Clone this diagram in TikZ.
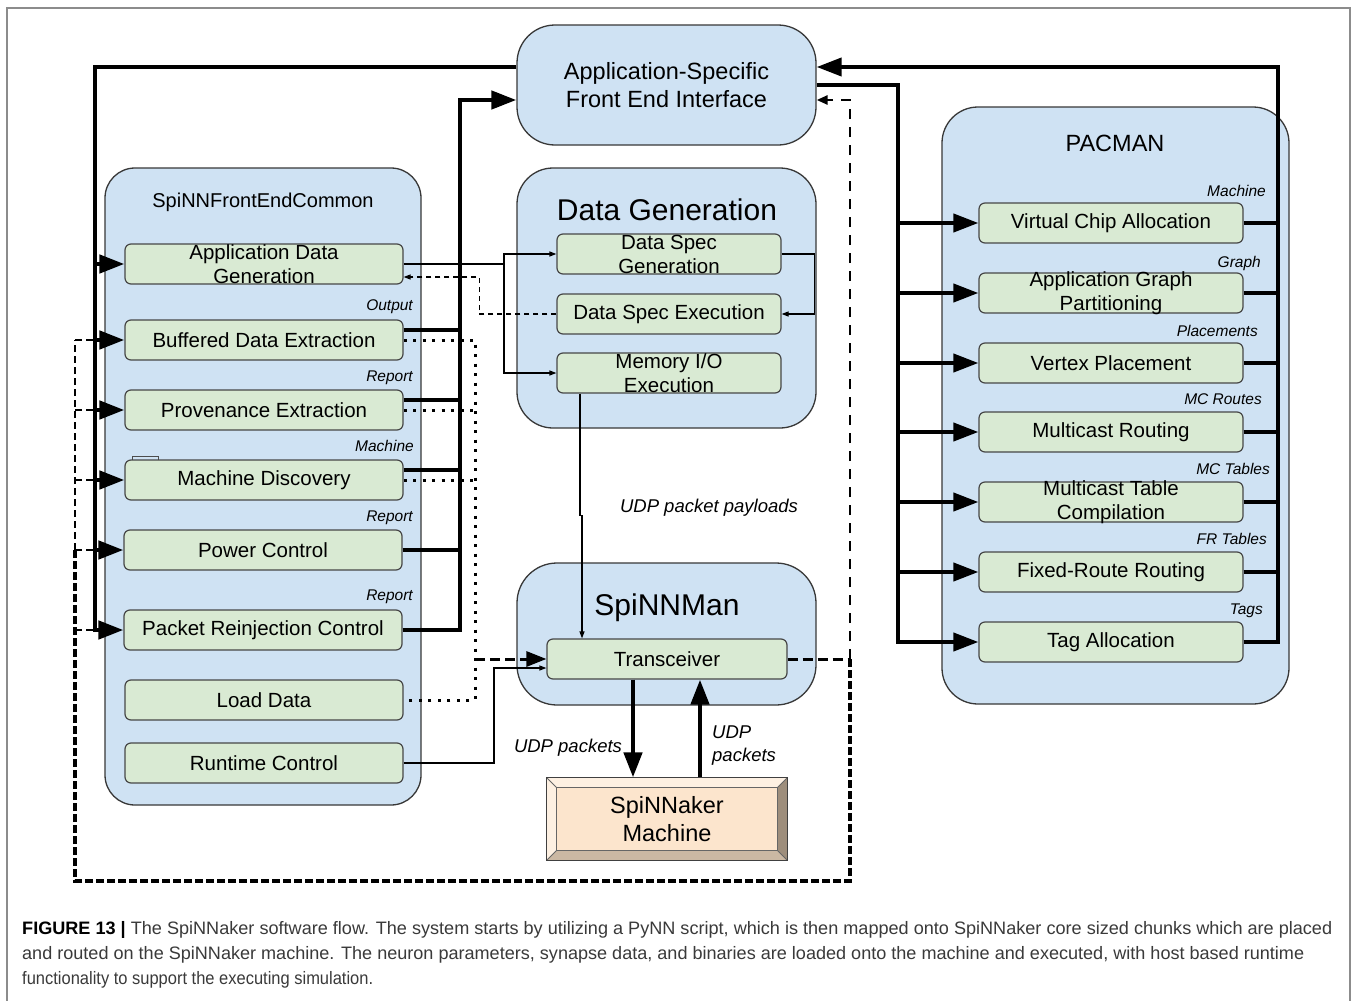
\documentclass[tikz,border=0pt]{standalone}
\usepackage{fontspec}
\usepackage{graphicx}
\setmainfont{Liberation Sans}
\usetikzlibrary{arrows.meta,calc}
\definecolor{contblue}{HTML}{CFE2F3}
\definecolor{boxgreen}{HTML}{D9EAD3}
\definecolor{peach}{HTML}{FCE5CD}
\definecolor{peachlt}{HTML}{FDF0E2}
\definecolor{peachdk}{HTML}{CBB8A3}
\definecolor{peachdkr}{HTML}{9E8E7C}
\definecolor{capgray}{HTML}{3A3A3A}
\newcommand\fsz[2]{\fontsize{#1}{#2}\selectfont}
\tikzset{
  bigtri/.tip={Triangle[length=25pt,width=18pt]},
  medtri/.tip={Triangle[length=20pt,width=15pt]},
  dtri/.tip={Triangle[length=11pt,width=9pt]},
  smtri/.tip={Triangle[length=7pt,width=5pt]}
}
\begin{document}
\begin{tikzpicture}[x=1pt,y=-1pt,
  container/.style={draw=black!78,line width=1.3pt,fill=contblue,inner sep=0pt},
  gbox/.style={draw=black!72,line width=1.2pt,fill=boxgreen,rounded corners=6pt,inner sep=0pt,minimum height=40pt},
  boxtxt/.style={font=\fsz{20.5}{24},align=center,inner sep=0pt},
  tag/.style={font=\fsz{15.5}{18}\itshape,inner sep=0pt,anchor=base east},
  udp/.style={font=\fsz{18.5}{23}\itshape,inner sep=0pt},
  bus/.style={line width=4.5pt},
  pbus/.style={line width=4pt},
  thinln/.style={line width=1.2pt},
  thindash/.style={line width=1.2pt,dash pattern=on 5pt off 4pt},
  dots/.style={line width=3pt,dash pattern=on 3pt off 6.5pt},
  tdash/.style={line width=3pt,dash pattern=on 10pt off 5pt},
  mdash/.style={line width=2.6pt,dash pattern=on 10pt off 8pt},
  hdash/.style={line width=4.2pt,dash pattern=on 8pt off 3pt},
  ldash/.style={line width=2.8pt,dash pattern=on 7pt off 4pt}
]
\useasboundingbox (0,0) rectangle (1358,1001);
\fill[white] (0,0) rectangle (1358,1001);
\draw[black!45,line width=1.3pt] (7,1015) -- (7,8) -- (1350,8) -- (1350,1015);

% containers
\node[container,rounded corners=38pt,minimum width=299pt,minimum height=120pt,font=\fsz{23.5}{28},align=center] (asfei) at (666.5,85) {Application-Specific\\Front End Interface};
\node[container,rounded corners=30pt,minimum width=316pt,minimum height=637pt] (sfec) at (263,486.5) {};
\node[container,rounded corners=36pt,minimum width=299pt,minimum height=260pt] (dg) at (666.5,298) {};
\node[container,rounded corners=40pt,minimum width=299pt,minimum height=142pt] (sm) at (666.5,634) {};
\node[container,rounded corners=36pt,minimum width=347pt,minimum height=597pt] (pac) at (1115.5,405.5) {};

\node[font=\fsz{20}{24},anchor=base,inner sep=0pt] (sfect) at (263,207) {SpiNNFrontEndCommon};
\node[font=\fsz{30}{36},anchor=base,inner sep=0pt] (dgt) at (667,220) {Data Generation};
\node[font=\fsz{30}{36},anchor=base,inner sep=0pt] (smt) at (667,615) {SpiNNMan};
\node[font=\fsz{23.5}{28},anchor=base,inner sep=0pt] (pact) at (1115,151) {PACMAN};

% SpiNNFrontEndCommon boxes
\draw[black!70,line width=0.8pt] (132,460) rectangle (158,456);
\node[gbox,minimum width=278pt,label={[boxtxt]center:{Application Data\\Generation}}] (adg) at (264,264) {};
\node[gbox,minimum width=278pt,label={[boxtxt]center:{Buffered Data Extraction}}] (bde) at (264,340) {};
\node[gbox,minimum width=278pt,label={[boxtxt]center:{Provenance Extraction}}] (pe) at (264,410) {};
\node[gbox,minimum width=278pt,label={[boxtxt]center:{Machine Discovery}}] (md) at (264,480) {};
\node[gbox,minimum width=278pt,label={[boxtxt]center:{Power Control}}] (pc) at (263,550) {};
\node[gbox,minimum width=278pt,label={[boxtxt]center:{Packet Reinjection Control}}] (prc) at (263,630) {};
\node[gbox,minimum width=278pt,label={[boxtxt]center:{Load Data}}] (ld) at (264,700) {};
\node[gbox,minimum width=278pt,label={[boxtxt]center:{Runtime Control}}] (rc) at (264,763) {};

\node[tag] (t1) at (413,310.5) {Output};
\node[tag] (t2) at (413,381.5) {Report};
\node[tag] (t3) at (414,451.5) {Machine};
\node[tag] (t4) at (413,521.5) {Report};
\node[tag] (t5) at (413,600.5) {Report};

% Data generation boxes
\node[gbox,minimum width=224pt,label={[boxtxt]center:{Data Spec\\Generation}}] (dsg) at (669,254) {};
\node[gbox,minimum width=224pt,label={[boxtxt]center:{Data Spec Execution}}] (dse) at (669,314) {};
\node[gbox,minimum width=224pt,label={[boxtxt]center:{Memory I/O\\Execution}}] (mio) at (669,373) {};

% SpiNNMan
\node[gbox,minimum width=240pt,label={[boxtxt]center:{Transceiver}}] (trx) at (667,659) {};

% SpiNNaker machine
\node[draw=black!75,line width=1.2pt,fill=peach,minimum width=240pt,minimum height=82pt,inner sep=0pt] (spm) at (667,819) {};
\fill[peachlt] (spm.north west) -- (spm.north east) -- ($(spm.north east)+(-10,10)$) -- ($(spm.north west)+(10,10)$) -- cycle;
\fill[peachlt] (spm.north west) -- ($(spm.north west)+(10,10)$) -- ($(spm.south west)+(10,-10)$) -- (spm.south west) -- cycle;
\fill[peachdk] (spm.south west) -- (spm.south east) -- ($(spm.south east)+(-10,-10)$) -- ($(spm.south west)+(10,-10)$) -- cycle;
\fill[peachdkr] (spm.north east) -- (spm.south east) -- ($(spm.south east)+(-10,-10)$) -- ($(spm.north east)+(-10,10)$) -- cycle;
\draw[black!60,line width=0.8pt] ($(spm.north west)+(10,10)$) rectangle ($(spm.south east)+(-10,-10)$);
\draw[black!60,line width=0.8pt] (spm.north west) -- ($(spm.north west)+(10,10)$) (spm.north east) -- ($(spm.north east)+(-10,10)$) (spm.south west) -- ($(spm.south west)+(10,-10)$) (spm.south east) -- ($(spm.south east)+(-10,-10)$);
\draw[black!75,line width=1.2pt] (spm.north west) rectangle (spm.south east);
\node[font=\fsz{23.5}{28},align=center,inner sep=0pt] (spmt) at (spm.center) {SpiNNaker\\Machine};

% PACMAN boxes
\node[gbox,minimum width=264pt,label={[boxtxt]center:{Virtual Chip Allocation}}] (vca) at (1111,223) {};
\node[gbox,minimum width=264pt,label={[boxtxt]center:{Application Graph\\Partitioning}}] (agp) at (1111,293) {};
\node[gbox,minimum width=264pt,label={[boxtxt]center:{Vertex Placement}}] (vp) at (1111,363) {};
\node[gbox,minimum width=264pt,label={[boxtxt]center:{Multicast Routing}}] (mr) at (1111,432) {};
\node[gbox,minimum width=264pt,label={[boxtxt]center:{Multicast Table\\Compilation}}] (mtc) at (1111,502) {};
\node[gbox,minimum width=264pt,label={[boxtxt]center:{Fixed-Route Routing}}] (frr) at (1111,572) {};
\node[gbox,minimum width=264pt,label={[boxtxt]center:{Tag Allocation}}] (ta) at (1111,642) {};

\node[tag] (p1) at (1266,196.5) {Machine};
\node[tag] (p2) at (1261,267.5) {Graph};
\node[tag] (p3) at (1258,336.5) {Placements};
\node[tag] (p4) at (1262,404.5) {MC Routes};
\node[tag] (p5) at (1270,474.5) {MC Tables};
\node[tag] (p6) at (1267,544.5) {FR Tables};
\node[tag] (p7) at (1263,614.5) {Tags};

% coordinates
\coordinate (lbus) at (95,67);
\coordinate (rbus) at (460,100);
\coordinate (dv) at (475,340);
\coordinate (rcj) at (494,668);
\coordinate (dr) at (850,659);
\coordinate (dbl) at (75,881);
\coordinate (dlm) at (75,550);
\coordinate (dlt) at (75,340);
\coordinate (sj) at (504,264);
\coordinate (pl) at (898,85);
\coordinate (pr) at (1278,67);

% dashed feedback loop
\draw[mdash,-dtri] (dr) -- (dr |- rbus) -- (rbus -| asfei.east);
\draw[hdash] (dr) |- (dbl) -- (dlm);
\draw[ldash] (dlm) -- (dlt);
\foreach \n in {bde,pe,md,pc,prc} \draw[ldash] (dlt |- \n.west) -- ($(lbus |- \n.west)+(6,0)$);
\draw[tdash] (trx.east) -- (dr);

% left bus
\draw[bus,-bigtri] ([yshift=18pt]asfei.west) -- (lbus) |- (prc.west);
\foreach \n in {adg,bde,pe,md,pc} \draw[bus,-bigtri] (lbus |- \n.west) -- (\n.west);

% right bus of SpiNNFrontEndCommon
\draw[bus,-bigtri] (prc.east) -| (rbus) -- (rbus -| asfei.west);
\foreach \n in {bde,pe,md} \draw[bus] ([yshift=10pt]\n.east) -- ([yshift=10pt]\n.east -| rbus);
\draw[bus] (pc.east) -- (pc.east -| rbus);

% dotted outputs
\draw[dots] (bde.east) -- (dv) |- (ld.east);
\draw[dots] (pe.east) -- (pe.east -| dv);
\draw[dots] (md.east) -- (md.east -| dv);
\draw[tdash,-medtri] (dv |- trx.west) -- (trx.west);

% runtime control
\draw[thinln,-smtri] (rc.east) -| (rcj) -- (rcj -| trx.west);

% data generation flow
\draw[thinln] (adg.east) -- (sj);
\draw[thinln,-smtri] (sj) |- (dsg.west);
\draw[thinln,-smtri] (sj) |- (mio.west);
\draw[thinln,-smtri] (dsg.east) -- ++(33,0) |- (dse.east);
\draw[thindash,-smtri] (dse.west) -- ++(-77,0) |- ([yshift=-13pt]adg.east);
\draw[thinln,-smtri] ([xshift=-89pt]mio.south) -- ++(0,122) -| ([xshift=-85pt]trx.north);

% transceiver <-> machine
\draw[bus,-bigtri] ([xshift=-34pt]trx.south) -- ([xshift=-34pt]spm.north);
\draw[bus,-bigtri] ([xshift=33pt]spm.north) -- ([xshift=33pt]trx.south);

\node[udp,anchor=base] (u1) at (709,512) {UDP packet payloads};
\node[udp,anchor=base] (u2) at (568,752) {UDP packets};
\node[udp,anchor=west,align=left] (u3) at (712,746) {UDP\\packets};

% PACMAN buses
\draw[pbus,-bigtri] (asfei.east) -- (pl) |- (ta.west);
\foreach \n in {vca,agp,vp,mr,mtc,frr} \draw[pbus,-bigtri] (pl |- \n.west) -- (\n.west);
\draw[pbus,-bigtri] (ta.east) -| (pr) -- (pr -| asfei.east);
\foreach \n in {vca,agp,vp,mr,mtc,frr} \draw[pbus] (\n.east) -- (\n.east -| pr);

% caption
\node[anchor=west,inner sep=0pt,text=capgray,font=\fsz{18}{22}] (cap1) at (22,930) {\resizebox{1310pt}{\height}{\textcolor{black}{\textbf{FIGURE 13 |}} The SpiNNaker software flow. The system starts by utilizing a PyNN script, which is then mapped onto SpiNNaker core sized chunks which are placed}};
\node[anchor=west,inner sep=0pt,text=capgray,font=\fsz{18}{22}] (cap2) at (22,955) {\resizebox{1282pt}{\height}{and routed on the SpiNNaker machine. The neuron parameters, synapse data, and binaries are loaded onto the machine and executed, with host based runtime}};
\node[anchor=west,inner sep=0pt,text=capgray,font=\fsz{18}{22}] (cap3) at (22,980) {\resizebox{351pt}{\height}{functionality to support the executing simulation.}};
\end{tikzpicture}
\end{document}
